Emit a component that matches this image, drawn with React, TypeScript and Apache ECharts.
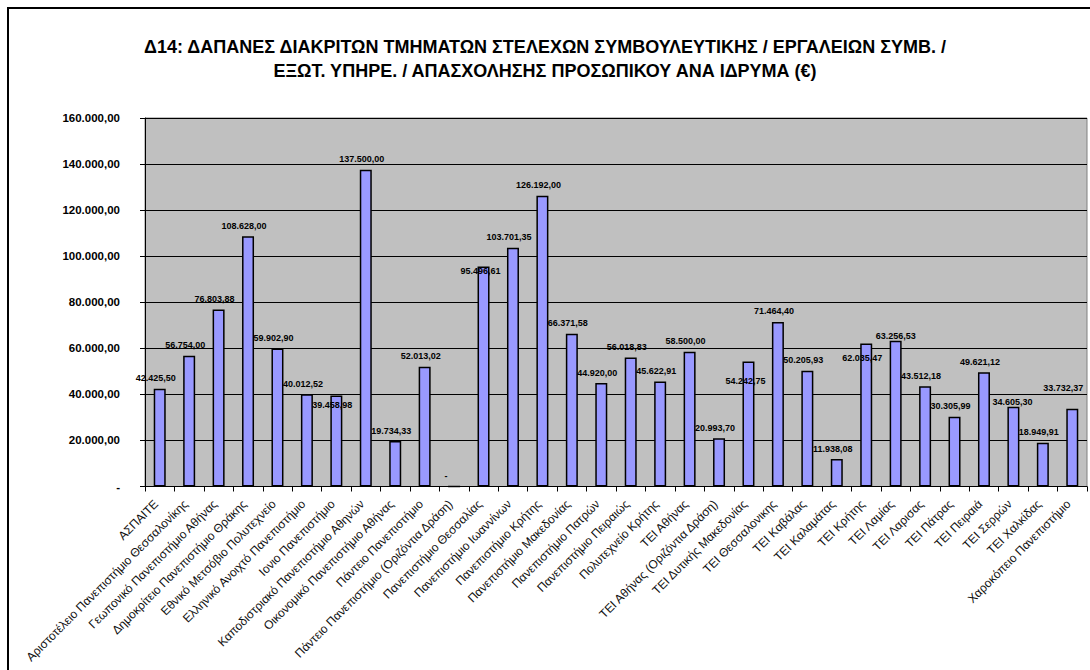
import React, { useEffect, useRef } from "react";
import * as echarts from "echarts";

const categories: string[] = [
  "ΑΣΠΑΙΤΕ",
  "Αριστοτέλειο Πανεπιστήμιο Θεσσαλονίκης",
  "Γεωπονικό Πανεπιστήμιο Αθήνας",
  "Δημοκρίτειο Πανεπιστήμιο Θράκης",
  "Εθνικό Μετσόβιο Πολυτεχνείο",
  "Ελληνικό Ανοιχτό Πανεπιστήμιο",
  "Ιονιο Πανεπιστήμιο",
  "Καποδιστριακό Πανεπιστήμιο Αθηνών",
  "Οικονομικό Πανεπιστήμιο Αθήνας",
  "Πάντειο Πανεπιστήμιο",
  "Πάντειο Πανεπιστήμιο (Οριζόντια Δράση)",
  "Πανεπιστήμιο Θεσσαλίας",
  "Πανεπιστήμιο Ιωαννίνων",
  "Πανεπιστήμιο Κρήτης",
  "Πανεπιστήμιο Μακεδονίας",
  "Πανεπιστήμιο Πατρών",
  "Πανεπιστήμιο Πειραιώς",
  "Πολυτεχνείο Κρήτης",
  "ΤΕΙ Αθήνας",
  "ΤΕΙ Αθήνας (Οριζόντια Δράση)",
  "ΤΕΙ Δυτικής Μακεδονίας",
  "ΤΕΙ Θεσσαλονικης",
  "ΤΕΙ Καβάλας",
  "ΤΕΙ Καλαμάτας",
  "ΤΕΙ Κρήτης",
  "ΤΕΙ Λαμίας",
  "ΤΕΙ Λαρισας",
  "ΤΕΙ Πάτρας",
  "ΤΕΙ Πειραιά",
  "ΤΕΙ Σερρών",
  "ΤΕΙ Χαλκίδας",
  "Χαροκόπειο Πανεπιστήμιο",
];

const values: number[] = [
  42425.5, 56754.0, 76803.88, 108628.0, 59902.9, 40012.52, 39458.98, 137500.0,
  19734.33, 52013.02, 0, 95496.61, 103701.35, 126192.0, 66371.58, 44920.0,
  56018.83, 45622.91, 58500.0, 20993.7, 54242.75, 71464.4, 50205.93, 11938.08,
  62035.47, 63256.53, 43512.18, 30305.99, 49621.12, 34605.3, 18949.91, 33732.37,
];

const titleLines: string[] = [
  "Δ14: ΔΑΠΑΝΕΣ ΔΙΑΚΡΙΤΩΝ ΤΜΗΜΑΤΩΝ ΣΤΕΛΕΧΩΝ ΣΥΜΒΟΥΛΕΥΤΙΚΗΣ / ΕΡΓΑΛΕΙΩΝ ΣΥΜΒ. /",
  "ΕΞΩΤ. ΥΠΗΡΕ. / ΑΠΑΣΧΟΛΗΣΗΣ ΠΡΟΣΩΠΙΚΟΥ ΑΝΑ ΙΔΡΥΜΑ (€)",
];

const yMin = 0;
const yMax = 160000;
const yInterval = 20000;

// label placement tweaks (style only, keyed by bar index) to mirror the reference layout
const defaultLabelOffset: [number, number] = [-4, 0];
const labelOffsetOverrides: Record<number, [number, number]> = {
  6: [-4, 20],
  10: [-8, 1],
  11: [-3, 15],
  20: [-3, 30],
  24: [-4, 24.5],
  25: [0, 6],
  29: [-1, 5.5],
  31: [-9, -10],
};

function fmtGreek(v: number): string {
  if (!v) return "-";
  const fixed = v.toFixed(2);
  const [intPart, dec] = fixed.split(".");
  const withDots = intPart.replace(/\B(?=(\d{3})+(?!\d))/g, ".");
  return withDots + "," + dec;
}

export default function App() {
  const ref = useRef<HTMLDivElement>(null);
  useEffect(() => {
    if (!ref.current) return;
    const chart = echarts.init(ref.current, undefined, { renderer: "svg" });
    const barData = values.map((v, i) => ({
      value: v,
      label: { offset: labelOffsetOverrides[i] || defaultLabelOffset },
    }));
    chart.setOption({
      animation: false,
      backgroundColor: "#ffffff",
      title: {
        text: titleLines.join("\n"),
        left: "center",
        top: 30,
        textStyle: {
          fontFamily: "Liberation Sans, Arial, sans-serif",
          fontWeight: "bold",
          fontSize: 18,
          lineHeight: 24,
          color: "#000",
        },
      },
      graphic: [
        {
          type: "rect",
          shape: { x: 8, y: 8, width: 1200, height: 800 },
          style: { fill: "none", stroke: "#000", lineWidth: 2 },
          silent: true,
          z: 100,
        },
      ],
      grid: {
        left: 145,
        right: 3,
        top: 118,
        bottom: 183.5,
        outerBoundsMode: "none",
        containLabel: false,
        show: true,
        backgroundColor: "#c0c0c0",
        borderColor: "#808080",
        borderWidth: 1,
      },
      xAxis: {
        type: "category",
        data: categories,
        boundaryGap: true,
        axisLine: { show: true, lineStyle: { color: "#000", width: 1 } },
        axisTick: { show: true, alignWithLabel: false, length: 5, lineStyle: { color: "#000" } },
        axisLabel: {
          interval: 0,
          rotate: 45,
          margin: 12,
          padding: [0, 5, 0, 0],
          fontFamily: "Liberation Sans, Arial, sans-serif",
          fontSize: 12,
          color: "#111",
        },
      },
      yAxis: {
        type: "value",
        min: yMin,
        max: yMax,
        interval: yInterval,
        axisLine: { show: true, lineStyle: { color: "#000", width: 1 } },
        axisTick: { show: true, length: 5, lineStyle: { color: "#000" } },
        splitLine: { show: true, lineStyle: { color: "#000", width: 1 } },
        axisLabel: {
          margin: 25,
          formatter: (v: number) => fmtGreek(v),
          fontFamily: "Liberation Sans, Arial, sans-serif",
          fontWeight: "bold",
          fontSize: 11.5,
          color: "#000",
        },
      },
      series: [
        {
          type: "bar",
          data: barData,
          barWidth: 12,
          itemStyle: { color: "#9999ff", borderColor: "#000", borderWidth: 1.5 },
          label: {
            show: true,
            position: "top",
            distance: 6,
            formatter: (p: any) => fmtGreek(p.value),
            fontFamily: "Liberation Sans, Arial, sans-serif",
            fontWeight: "bold",
            fontSize: 9,
            color: "#000",
          },
        },
      ],
    });
    return () => chart.dispose();
  }, []);
  return (
    <div
      ref={ref}
      style={{ position: "fixed", left: 0, top: 0, width: 1090, height: 670 }}
    />
  );
}
